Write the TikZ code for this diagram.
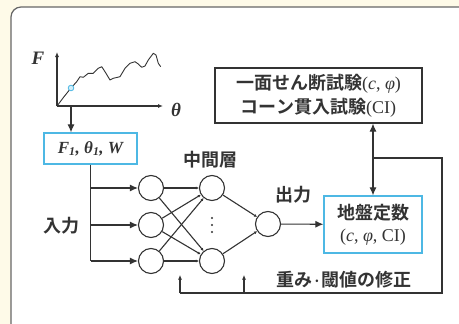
\documentclass[tikz,border=0pt]{standalone}
\usepackage{fontspec}
\setmainfont{Liberation Serif}
\newfontfamily\jpfont{Noto Sans CJK JP Bold}
\usetikzlibrary{arrows.meta,positioning,calc}
\definecolor{cream}{HTML}{FEFAE8}
\definecolor{boxblue}{HTML}{4DB8E4}
\definecolor{ink}{HTML}{333333}

\begin{document}
\begin{tikzpicture}
[x=1pt,y=-1pt,
every node/.style={text=ink},
neuron/.style={circle,draw=ink,line width=1.1pt,minimum size=25pt,inner sep=0pt},
bluebox/.style={draw=boxblue,line width=1.2pt,align=center,inner sep=0pt},
testbox/.style={draw=ink,line width=1.1pt,align=center,inner sep=0pt},
jlabel/.style={font=\jpfont\fontsize{18}{20}\selectfont},
wire/.style={draw=ink,line width=1.1pt},
bigarrow/.style={-{Latex[length=8pt,width=7pt]}},
axisarrow/.style={-{Latex[length=5pt,width=4pt]}},
smallarrow/.style={-{Latex[length=3pt,width=3pt]}},
fbarrow/.style={-{Latex[length=4.5pt,width=4pt]}}]
\path[use as bounding box] (0,0) rectangle (459,324);
\fill[cream] (0,0) rectangle (459,324);
\begin{scope}
\clip (0,0) rectangle (459,324);
\draw[gray!80!black,line width=1.2pt,fill=white,rounded corners=10pt] (11,7) rectangle (480,345);
\end{scope}

% F-theta curve
\coordinate (origin) at (57,106);
\coordinate (pick) at (71,106);
\draw[wire,axisarrow] (origin) -- (57,52);
\draw[wire,axisarrow] (origin) -- (163,106);
\node[font=\fontsize{19}{19}\selectfont\bfseries\itshape] (flbl) at (38,58) {F};
\node[font=\fontsize{19}{19}\selectfont\bfseries\itshape] (thlbl) at (176,110) {θ};
\draw[ink,line width=0.9pt,line join=round] (origin) -- (63,98) -- (71,88) -- (76.7,81.7) -- (80,76.7) -- (83.3,77.3)
  -- (88.3,73.3) -- (93.3,73.3) -- (98.3,68.3) -- (101.7,66.7) -- (105,71.7) -- (110,80) -- (113.3,78.3)
  -- (120,76.7) -- (125,68.3) -- (130,63.3) -- (135,61.7) -- (138.3,64) -- (141.7,67.3) -- (145,66)
  -- (148.3,60) -- (153.3,53.3) -- (156,55) -- (158.3,63.3) -- (160.7,66.7);
\draw[boxblue,line width=0.8pt,fill=boxblue!25] (71,88) circle (2.8pt);

% input values
\node[bluebox,minimum width=93pt,minimum height=31pt,font=\fontsize{17}{18}\selectfont\bfseries\itshape]
  (inp) at (90.5,148.5) {F\textsubscript{1}, θ\textsubscript{1}, W};
\draw[wire,bigarrow] (pick) -- (pick |- inp.north);

% network
\node[neuron] (i1) at (151,188) {};
\node[neuron] (i2) at (151,225) {};
\node[neuron] (i3) at (151,261) {};
\node[neuron] (h1) at (212,188) {};
\node[neuron] (h2) at (212,261) {};
\node[neuron] (out) at (268,224) {};
\draw[wire] (inp.south) -- (inp.south |- i3);
\foreach \i in {1,2,3}
  \draw[wire,bigarrow] (inp.south |- i\i) -- (i\i);
\foreach \i in {1,2,3}
  \foreach \h in {1,2}
    \draw[wire,smallarrow] (i\i) -- (h\h);
\draw[wire,smallarrow] (h1) -- (out);
\draw[wire,smallarrow] (h2) -- (out);
\foreach \y in {218,225,232}
  \fill[ink] (212,\y) circle (1.2pt);

\node[jlabel] (midlbl) at (210,160) {中間層};
\node[jlabel] (inlbl) at (61,226) {入力};
\node[jlabel] (outlbl) at (293,195) {出力};

% soil constants and tests
\node[bluebox,minimum width=98pt,minimum height=57pt,font=\fontsize{18}{22}\selectfont]
  (soil) at (373,224.5) {{\jpfont 地盤定数}\\(\textit{c}, \textit{φ}, CI)};
\node[testbox,minimum width=207pt,minimum height=55pt,font=\fontsize{18}{24}\selectfont]
  (test) at (318.5,95.5) {{\jpfont 一面せん断試験}(\textit{c}, \textit{φ})\\{\jpfont コーン貫入試験}(CI)};
\draw[wire,bigarrow] (out) -- (soil);

% feedback
\coordinate (fork) at (373,158);
\coordinate (corner) at (442,293);
\coordinate (fb1) at (180,293);
\coordinate (fb2) at (244,293);
\coordinate (tip1) at (180,275);
\coordinate (tip2) at (244,275);
\draw[wire,bigarrow] (fork) -- (fork |- test.south);
\draw[wire,bigarrow] (fork) -- (soil.north);
\draw[wire] (fork) -| (corner) -- (fb1);
\draw[wire,fbarrow] (fb1) -- (tip1);
\draw[wire,fbarrow] (fb2) -- (tip2);
\node[jlabel] (fixlbl) at (344,280) {重み{\fontsize{14}{14}\selectfont ·}閾値の修正};
\end{tikzpicture}
\end{document}
